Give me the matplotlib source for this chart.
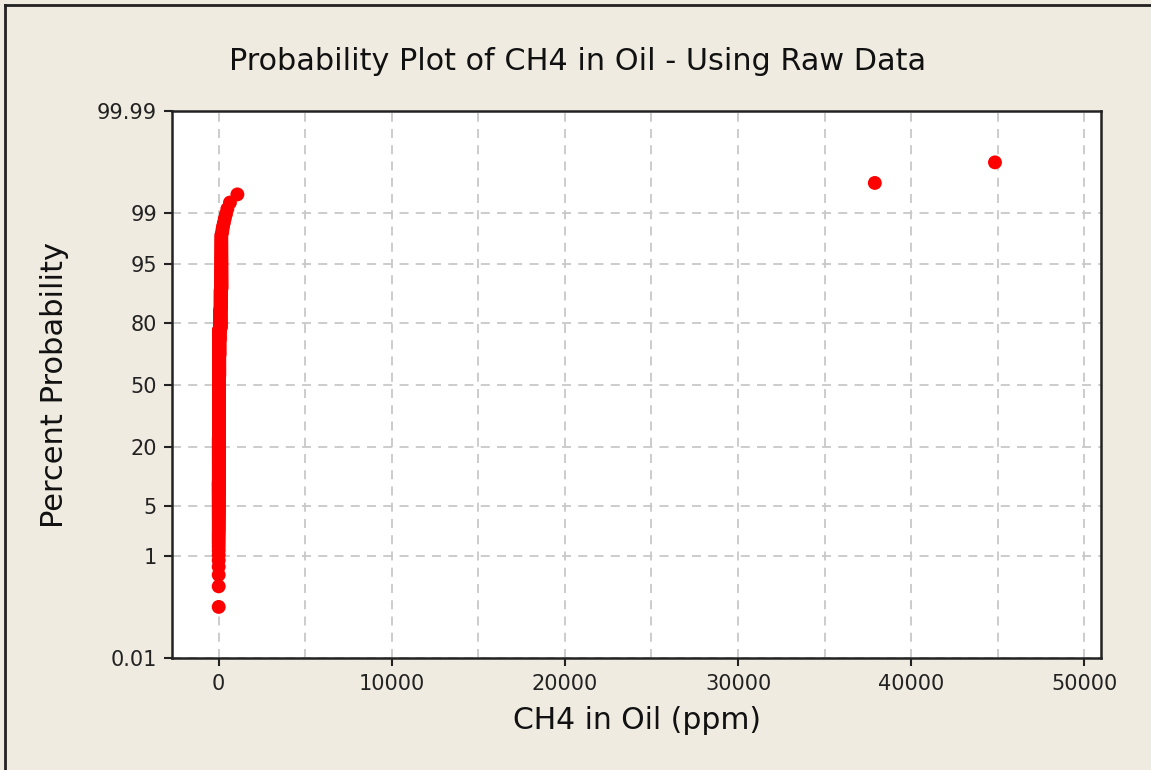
import numpy as np
import matplotlib
matplotlib.use("Agg")
import matplotlib.pyplot as plt
from matplotlib.ticker import FixedLocator, MultipleLocator
from matplotlib.lines import Line2D
from statistics import NormalDist

# ---- data (CH4 in oil, ppm): distinct values and how many samples share each ----
ch4_values = [0, 5, 10, 15, 20, 25, 30, 40, 100, 120, 150,
              200, 220, 250, 300, 350, 420, 500, 650, 1080, 37900, 44840]
ch4_counts = [12, 40, 80, 90, 80, 60, 40, 29, 40, 30, 43,
              1, 1, 1, 1, 1, 1, 1, 1, 1, 1, 1]

y_ticks = [0.01, 1, 5, 20, 50, 80, 95, 99, 99.99]
y_tick_labels = ["0.01", "1", "5", "20", "50", "80", "95", "99", "99.99"]
x_ticks = [0, 10000, 20000, 30000, 40000, 50000]

title = "Probability Plot of CH4 in Oil - Using Raw Data"
x_label = "CH4 in Oil (ppm)"
y_label = "Percent Probability"

# sorted sample and median-rank plotting positions
data = np.sort(np.repeat(ch4_values, ch4_counts)).astype(float)
n = len(data)
ranks = np.arange(1, n + 1)
percent = 100.0 * (ranks - 0.3) / (n + 0.4)

_nd = NormalDist()
_ppf = np.vectorize(_nd.inv_cdf, otypes=[float])
_cdf = np.vectorize(_nd.cdf, otypes=[float])


def fwd(p):
    p = np.clip(np.asarray(p, dtype=float) / 100.0, 1e-9, 1 - 1e-9)
    return _ppf(p)


def inv(z):
    z = np.asarray(z, dtype=float)
    return 100.0 * _cdf(z)


bg = "#EFEBE1"
fig = plt.figure(figsize=(11.51, 7.70), dpi=100, facecolor=bg)
ax = fig.add_axes([172.3 / 1151, 1 - 658.3 / 770, (1101 - 172.3) / 1151, (658.3 - 111) / 770])
ax.set_facecolor("white")
ax.set_yscale("function", functions=(fwd, inv))

ax.scatter(data, percent, s=100, color="#FF0000", edgecolors="none", zorder=3, clip_on=False)

ax.set_xlim(-2680, 50965)
ax.set_ylim(0.01, 99.99)

ax.yaxis.set_major_locator(FixedLocator(y_ticks))
ax.set_yticklabels(y_tick_labels)
ax.yaxis.set_minor_locator(FixedLocator([]))
ax.xaxis.set_major_locator(FixedLocator(x_ticks))
ax.set_xticklabels([str(v) for v in x_ticks])
ax.xaxis.set_minor_locator(MultipleLocator(5000))

ax.grid(True, which="both", axis="x", color="#C8C8C8", linestyle=(0, (5, 4)), linewidth=1.3, zorder=0)
ax.grid(True, which="major", axis="y", color="#C8C8C8", linestyle=(0, (5, 4)), linewidth=1.3, zorder=0)
ax.set_axisbelow(True)

ax.tick_params(axis="both", which="major", direction="out", length=6, width=1.5,
               color="#222222", labelsize=15, labelcolor="#222222", pad=5)
ax.tick_params(axis="x", which="minor", length=0)
for sp in ax.spines.values():
    sp.set_color("#222222")
    sp.set_linewidth(1.8)

ax.set_xlabel(x_label, fontsize=21.5, color="#111111", labelpad=9)
ax.set_ylabel(y_label, fontsize=22, color="#111111", labelpad=20)
fig.text(0.5018, 1 - 61 / 770, title, fontsize=21.8, color="#111111", ha="center", va="center")

# window frame (top and left edges)
fig.add_artist(Line2D([5 / 1151, 5 / 1151], [0, 1 - 5 / 770], transform=fig.transFigure,
                      color="#222222", linewidth=2))
fig.add_artist(Line2D([5 / 1151, 1], [1 - 5 / 770, 1 - 5 / 770], transform=fig.transFigure,
                      color="#222222", linewidth=2))

fig.savefig("out.png", dpi=100, facecolor=bg)
